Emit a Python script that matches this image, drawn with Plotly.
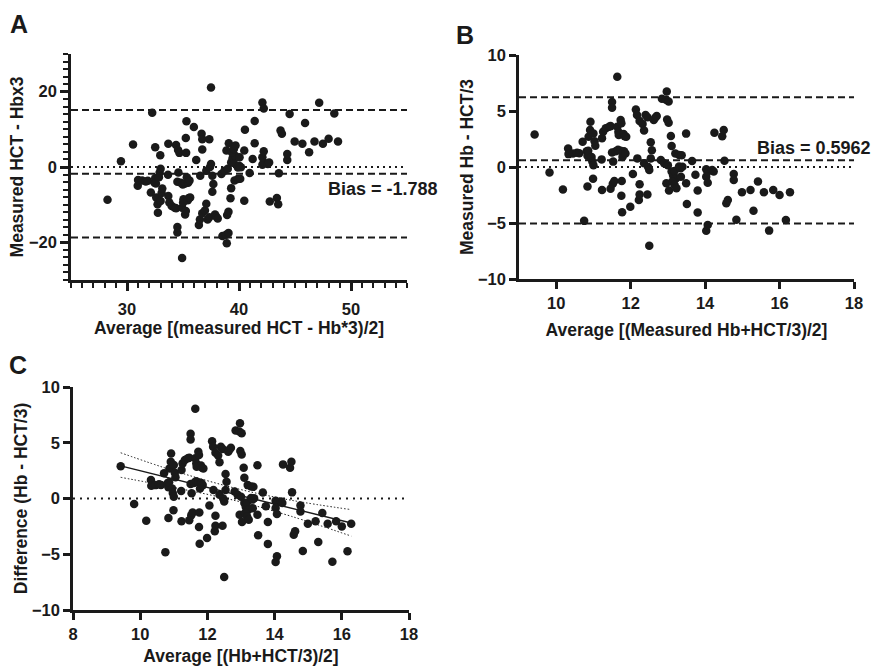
import plotly.graph_objects as go

# ---- Data ----
# Panel B / C : Hb vs HCT/3
avg_hb = [9.42, 9.82, 10.18, 10.32, 10.33, 10.45, 10.56, 10.62, 10.71, 10.75,
          10.82, 10.84, 10.84, 10.86, 10.87, 10.91, 10.92, 10.95, 10.97, 10.99,
          11.00, 11.00, 11.03, 11.05, 11.22, 11.23, 11.23, 11.26, 11.33, 11.42,
          11.46, 11.46, 11.50, 11.50, 11.50, 11.52, 11.53, 11.56, 11.60, 11.64,
          11.64, 11.66, 11.67, 11.68, 11.73, 11.73, 11.75, 11.75, 11.76, 11.77,
          11.78, 11.81, 11.82, 11.84, 11.86, 11.88, 11.99, 12.06, 12.14, 12.17,
          12.18, 12.22, 12.24, 12.24, 12.24, 12.32, 12.36, 12.36, 12.40, 12.45,
          12.45, 12.47, 12.50, 12.50, 12.54, 12.54, 12.57, 12.62, 12.66, 12.70,
          12.81, 12.84, 12.90, 12.95, 12.97, 13.00, 12.96, 13.02, 12.98, 13.02,
          13.03, 13.08, 13.10, 13.10, 13.14, 13.18, 13.22, 13.12, 13.18, 13.23,
          13.20, 13.30, 13.37, 13.30, 13.34, 13.39, 13.35, 13.49, 13.49, 13.51,
          13.65, 13.74, 13.80, 13.80, 14.03, 14.07, 14.03, 14.07, 14.03, 14.07,
          14.19, 14.23, 14.25, 14.46, 14.50, 14.52, 14.57, 14.61, 14.77, 14.77,
          14.84, 14.99, 15.22, 15.30, 15.42, 15.58, 15.72, 15.83, 16.00, 16.17,
          16.28]
diff_hb = [2.90, -0.50, -2.00, 1.66, 1.15, 1.20, 1.28, 1.22, 2.26, -4.81,
           1.40, 1.00, -1.75, 1.45, 2.70, 3.30, 4.04, 0.90, 0.50, -1.05,
           3.00, 0.15, 2.30, 1.90, 0.68, -2.05, 2.56, 3.15, 3.45, 3.60,
           3.65, -1.95, 1.30, 5.80, 5.30, -1.50, 0.48, -1.25, 1.40, 8.05,
           3.60, 1.55, 3.15, 2.85, 4.20, 1.45, 3.90, -2.56, -1.25, -4.05,
           0.90, 2.95, 1.40, 2.75, 1.20, 2.70, -3.54, -0.62, 5.14, 4.65,
           0.77, -2.94, -2.45, -1.55, 4.10, 3.85, 3.25, 0.33, 4.65, 4.45,
           -2.45, 0.00, -0.27, -7.04, 2.20, 0.77, 1.50, 4.20, 4.40, 4.55,
           0.62, 6.10, 0.33, 6.00, 6.75, 0.15, -1.46, 5.85, 4.25, 3.95,
           -2.10, 2.76, 1.87, -0.40, -0.75, -0.35, -1.00, -1.30, -1.60, -1.90,
           1.20, 1.07, 1.05, 0.05, -0.10, 0.02, -0.87, 2.98, -1.45, -3.30,
           0.53, -0.70, -2.10, -4.07, -0.20, -0.40, -0.86, -1.40, -5.70, -5.17,
           -0.27, -0.40, 3.06, 2.75, 3.30, 0.55, -3.24, -2.94, -0.62, -1.16,
           -4.70, -2.26, -2.05, -3.90, -1.30, -2.26, -5.68, -2.05, -2.50, -4.73,
           -2.26]

# Panel A : HCT vs Hb*3
avg_hct = [28.26, 29.46, 30.54, 30.96, 30.99, 31.35, 31.68, 31.86, 32.13, 32.25,
           32.46, 32.52, 32.52, 32.58, 32.61, 32.73, 32.76, 32.85, 32.91, 32.97,
           33.00, 33.00, 33.09, 33.15, 33.66, 33.69, 33.69, 33.78, 33.99, 34.26,
           34.38, 34.38, 34.50, 34.50, 34.50, 34.56, 34.59, 34.68, 34.80, 34.92,
           34.92, 34.98, 35.01, 35.04, 35.19, 35.19, 35.25, 35.25, 35.28, 35.31,
           35.34, 35.43, 35.46, 35.52, 35.58, 35.64, 35.97, 36.18, 36.42, 36.51,
           36.54, 36.66, 36.72, 36.72, 36.72, 36.96, 37.08, 37.08, 37.20, 37.35,
           37.35, 37.41, 37.50, 37.50, 37.62, 37.62, 37.71, 37.86, 37.98, 38.10,
           38.43, 38.52, 38.70, 38.85, 38.91, 39.00, 38.88, 39.06, 38.94, 39.06,
           39.09, 39.24, 39.30, 39.30, 39.42, 39.54, 39.66, 39.36, 39.54, 39.69,
           39.60, 39.90, 40.11, 39.90, 40.02, 40.17, 40.05, 40.47, 40.47, 40.53,
           40.95, 41.22, 41.40, 41.40, 42.09, 42.21, 42.09, 42.21, 42.09, 42.21,
           42.57, 42.69, 42.75, 43.38, 43.50, 43.56, 43.71, 43.83, 44.31, 44.31,
           44.52, 44.97, 45.66, 45.90, 46.26, 46.74, 47.16, 47.49, 48.00, 48.51,
           48.84]
diff_hct = [-8.70, 1.50, 6.00, -4.98, -3.45, -3.60, -3.84, -3.66, -6.78, 14.43,
            -4.20, -3.00, 5.25, -4.35, -8.10, -9.90, -12.12, -2.70, -1.50, 3.15,
            -9.00, -0.45, -6.90, -5.70, -2.04, 6.15, -7.68, -9.45, -10.35, -10.80,
            -10.95, 5.85, -3.90, -17.40, -15.90, 4.50, -1.44, 3.75, -4.20, -24.15,
            -10.80, -4.65, -9.45, -8.55, -12.60, -4.35, -11.70, 7.68, 3.75, 12.15,
            -2.70, -8.85, -4.20, -8.25, -3.60, -8.10, 10.62, 1.86, -15.42, -13.95,
            -2.31, 8.82, 7.35, 4.65, -12.30, -11.55, -9.75, -0.99, -13.95, -13.35,
            7.35, 0.00, 0.81, 21.12, -6.60, -2.31, -4.50, -12.60, -13.20, -13.65,
            -1.86, -18.30, -0.99, -18.00, -20.25, -0.45, 4.38, -17.55, -12.75, -11.85,
            6.30, -8.28, -5.61, 1.20, 2.25, 1.05, 3.00, 3.90, 4.80, 5.70,
            -3.60, -3.21, -3.15, -0.15, 0.30, -0.06, 2.61, -8.94, 4.35, 9.90,
            -1.59, 2.10, 6.30, 12.21, 0.60, 1.20, 2.58, 4.20, 17.10, 15.51,
            0.81, 1.20, -9.18, -8.25, -9.90, -1.65, 9.72, 8.82, 1.86, 3.48,
            14.10, 6.78, 6.15, 11.70, 3.90, 6.78, 17.04, 6.15, 7.50, 14.19,
            6.78]

# Agreement statistics
bias_a = -1.788
loa_a = [15.12, -18.70]
bias_b = 0.5962
loa_b = [6.23, -5.04]

# Regression of difference on average (panel C) with 95% confidence band
fit_x = [9.42, 16.28]
fit_y = [2.92, -2.20]
band_x = [9.42, 11.0, 12.9, 14.5, 16.28]
band_upper = [4.10, 2.49, 0.87, -0.16, -1.00]
band_lower = [1.90, 0.99, -0.24, -1.60, -3.37]

# Axis settings
range_a_x = [25, 55]
range_a_y = [-30, 30]
range_b_x = [9, 18]
range_b_y = [-10, 10]
range_c_x = [8, 18]
range_c_y = [-10, 10]

W, H = 873, 668
INK = "#1a1a1a"
FONT = "Liberation Sans, Arial, sans-serif"


def px_x(a, b):
    return [a / W, b / W]


def px_y(top, bottom):
    return [1 - bottom / H, 1 - top / H]


fig = go.Figure()

dash_style = dict(color=INK, width=2, dash="7px,4px")
dot_style = dict(color=INK, width=2, dash="2px,4px")
marker = dict(color=INK, size=8.5, line=dict(width=0))

# ---- Panel A ----
fig.add_trace(go.Scatter(x=avg_hct, y=diff_hct, mode="markers", marker=marker,
                         xaxis="x", yaxis="y", showlegend=False))
for v in loa_a + [bias_a]:
    fig.add_trace(go.Scatter(x=range_a_x, y=[v, v], mode="lines", line=dash_style,
                             xaxis="x", yaxis="y", showlegend=False, hoverinfo="skip"))
fig.add_trace(go.Scatter(x=range_a_x, y=[0, 0], mode="lines", line=dot_style,
                         xaxis="x", yaxis="y", showlegend=False, hoverinfo="skip"))

# ---- Panel B ----
fig.add_trace(go.Scatter(x=avg_hb, y=diff_hb, mode="markers", marker=marker,
                         xaxis="x2", yaxis="y2", showlegend=False))
for v in loa_b + [bias_b]:
    fig.add_trace(go.Scatter(x=range_b_x, y=[v, v], mode="lines", line=dash_style,
                             xaxis="x2", yaxis="y2", showlegend=False, hoverinfo="skip"))
fig.add_trace(go.Scatter(x=range_b_x, y=[0, 0], mode="lines", line=dot_style,
                         xaxis="x2", yaxis="y2", showlegend=False, hoverinfo="skip"))

# ---- Panel C ----
fig.add_trace(go.Scatter(x=range_c_x, y=[0, 0], mode="lines",
                         line=dict(color=INK, width=2, dash="2px,5px"),
                         xaxis="x3", yaxis="y3", showlegend=False, hoverinfo="skip"))
fig.add_trace(go.Scatter(x=avg_hb, y=diff_hb, mode="markers", marker=marker,
                         xaxis="x3", yaxis="y3", showlegend=False))
for band in (band_upper, band_lower):
    fig.add_trace(go.Scatter(x=band_x, y=band, mode="lines",
                             line=dict(color=INK, width=1, dash="1.5px,2px", shape="spline"),
                             xaxis="x3", yaxis="y3", showlegend=False, hoverinfo="skip"))
fig.add_trace(go.Scatter(x=fit_x, y=fit_y, mode="lines", line=dict(color=INK, width=1.4),
                         xaxis="x3", yaxis="y3", showlegend=False, hoverinfo="skip"))

tickfont = dict(family=FONT, size=16.5, color=INK, weight="bold")
titlefont = dict(family=FONT, size=17.5, color=INK, weight="bold")
axis_common = dict(showline=True, linecolor=INK, linewidth=2.5, showgrid=False,
                   zeroline=False, ticks="outside", tickcolor=INK, tickwidth=2.5,
                   ticklen=7, tickfont=tickfont, mirror=False, fixedrange=True,
                   automargin=False)

fig.update_layout(
    width=W, height=H,
    margin=dict(l=0, r=0, t=0, b=0),
    paper_bgcolor="white", plot_bgcolor="white",
    font=dict(family=FONT, color=INK),
    xaxis=dict(axis_common, domain=px_x(71, 407), range=range_a_x,
               tickvals=[30, 40, 50], ticklen=8, ticklabelstandoff=4,
               minor=dict(tick0=25, dtick=1, ticks="outside", ticklen=5, tickwidth=2, tickcolor=INK),
               title=dict(text="Average [(measured HCT - Hb*3)/2]", font=titlefont, standoff=2),
               anchor="y"),
    yaxis=dict(axis_common, domain=px_y(54, 280), range=range_a_y,
               tickvals=[-20, 0, 20], ticklen=8,
               minor=dict(tick0=-30, dtick=2, ticks="outside", ticklen=5, tickwidth=2, tickcolor=INK),
               title=dict(text="Measured HCT - Hbx3", font=titlefont, standoff=1),
               anchor="x"),
    xaxis2=dict(axis_common, domain=px_x(519, 854), range=range_b_x,
                tickvals=[10, 12, 14, 16, 18], ticklabelstandoff=0,
                title=dict(text="Average [(Measured Hb+HCT/3)/2]", font=titlefont, standoff=14),
                anchor="y2"),
    yaxis2=dict(axis_common, domain=px_y(55, 279), range=range_b_y,
                tickvals=[-10, -5, 0, 5, 10],
                title=dict(text="Measured Hb - HCT/3", font=titlefont, standoff=0),
                anchor="x2"),
    xaxis3=dict(axis_common, domain=px_x(73, 409), range=range_c_x,
                tickvals=[8, 10, 12, 14, 16, 18], ticklabelstandoff=0,
                title=dict(text="Average [(Hb+HCT/3)/2]", font=titlefont, standoff=9),
                anchor="y3"),
    yaxis3=dict(axis_common, domain=px_y(387, 610), range=range_c_y,
                tickvals=[-10, -5, 0, 5, 10],
                title=dict(text="Difference (Hb - HCT/3)", font=titlefont, standoff=0),
                anchor="x3"),
    annotations=[
        dict(text="A", x=19 / W, y=1 - 24 / H, xref="paper", yref="paper", showarrow=False,
             xanchor="center", yanchor="middle",
             font=dict(family=FONT, size=25, color=INK, weight="bold")),
        dict(text="B", x=465 / W, y=1 - 35 / H, xref="paper", yref="paper", showarrow=False,
             xanchor="center", yanchor="middle",
             font=dict(family=FONT, size=25, color=INK, weight="bold")),
        dict(text="C", x=18 / W, y=1 - 365 / H, xref="paper", yref="paper", showarrow=False,
             xanchor="center", yanchor="middle",
             font=dict(family=FONT, size=25, color=INK, weight="bold")),
        dict(text="Bias = %s" % bias_a, x=range_a_x[1], y=bias_a, xref="x", yref="y",
             xanchor="right", yanchor="middle", yshift=-15, xshift=33, showarrow=False,
             font=dict(family=FONT, size=18, color=INK, weight="bold")),
        dict(text="Bias = %s" % bias_b, x=range_b_x[1], y=bias_b, xref="x2", yref="y2",
             xanchor="right", yanchor="middle", yshift=12, xshift=19, showarrow=False,
             font=dict(family=FONT, size=18, color=INK, weight="bold")),
    ],
)

fig.write_html("out.html", config={"displayModeBar": False},
               post_script="document.body.style.margin='0px';")
